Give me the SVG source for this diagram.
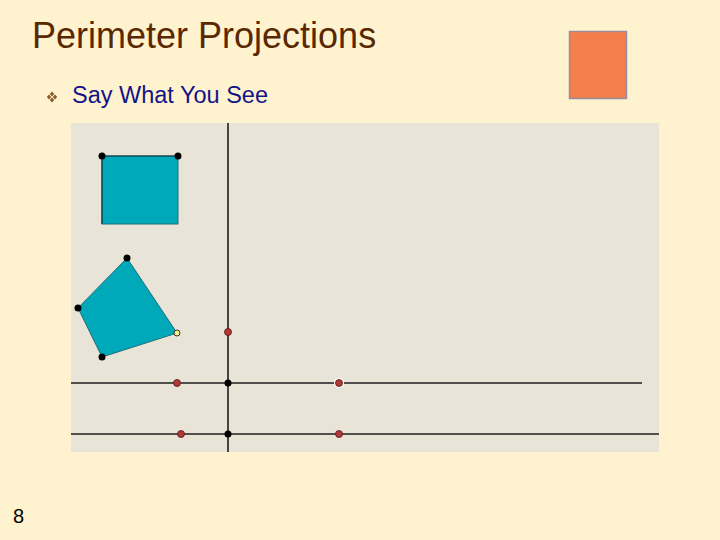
<svg xmlns="http://www.w3.org/2000/svg" width="720" height="540" viewBox="0 0 720 540">
<style>
.title{font-family:"Liberation Sans",Arial,sans-serif;font-size:36px;fill:#5A2800}
.sub{font-family:"Liberation Sans",Arial,sans-serif;font-size:23.5px;fill:#141489}
.num{font-family:"Liberation Sans",Arial,sans-serif;font-size:20px;fill:#000}
.ln{stroke:#1E1E1E;stroke-width:1.6;fill:none}
.blk{fill:#000}
.red{fill:#B23A3A;stroke:#5A1010;stroke-width:0.8}
.shape{fill:#00A9BA;stroke:#1F6F78;stroke-width:1}
</style>
<rect width="720" height="540" fill="#FFF3CF"/>
<g id="title"><text class="title" x="32" y="48">Perimeter Projections</text></g>
<g id="bullet" fill="#8A5A2A">
<polygon points="52,91.5 54.2,94 52,96.5 49.8,94"/>
<polygon points="52,97.5 54.2,100 52,102.5 49.8,100"/>
<polygon points="49,94.5 51.2,97 49,99.5 46.8,97"/>
<polygon points="55,94.5 57.2,97 55,99.5 52.8,97"/>
</g>
<g id="subtitle"><text class="sub" x="72" y="103">Say What You See</text></g>
<g id="orange"><rect x="569.5" y="31.5" width="57" height="67" fill="#F47F4A" stroke="#9A8CA0" stroke-width="1.5"/></g>
<g id="panel"><rect x="71" y="123" width="588" height="329" fill="#E8E4D7"/></g>
<g id="connectors">
<line class="ln" x1="228" y1="123" x2="228" y2="452"/>
<line class="ln" x1="71" y1="383" x2="642" y2="383"/>
<line class="ln" x1="71" y1="434" x2="659" y2="434"/>
</g>
<g id="square">
<rect class="shape" x="102" y="156" width="76" height="68" stroke="none"/>
<path d="M102,224 V156 H178" stroke="#0A3A40" stroke-width="1.2" fill="none"/>
<circle class="blk" cx="102" cy="156" r="3.5"/>
<circle class="blk" cx="178" cy="156" r="3.5"/>
</g>
<g id="quad">
<polygon class="shape" points="127,258 78,308 102,357 177,333"/>
<circle class="blk" cx="127" cy="258" r="3.5"/>
<circle class="blk" cx="78" cy="308" r="3.5"/>
<circle class="blk" cx="102" cy="357" r="3.5"/>
<circle cx="177" cy="333" r="3" fill="#F5F08A" stroke="#333" stroke-width="1"/>
</g>
<g id="points">
<circle class="red" cx="228" cy="332" r="3.5"/>
<circle class="red" cx="177" cy="383" r="3.5"/>
<circle cx="339" cy="383" r="5" fill="#FFFFFF"/>
<circle class="red" cx="339" cy="383" r="3.5"/>
<circle class="red" cx="181" cy="434" r="3.5"/>
<circle class="red" cx="339" cy="434" r="3.5"/>
<circle class="blk" cx="228" cy="383" r="3.5"/>
<circle class="blk" cx="228" cy="434" r="3.5"/>
</g>
<g id="page"><text class="num" x="13" y="523">8</text></g>
</svg>
